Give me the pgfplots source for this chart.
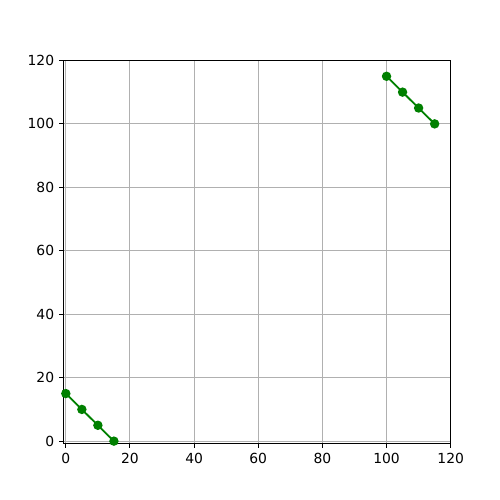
\documentclass[border=0pt]{standalone}
\usepackage{pgfplots}
\pgfplotsset{compat=1.18}
\usepackage{fontspec}
\setmainfont{DejaVu Sans}
\definecolor{mplgreen}{rgb}{0,0.5,0}
\begin{document}
\begin{tikzpicture}
\begin{axis}[
  scale only axis,
  width=278.5pt, height=275.5pt,
  xmin=-0.6, xmax=120, ymin=-0.6, ymax=120,
  xtick={0,20,40,60,80,100,120},
  ytick={0,20,40,60,80,100,120},
  grid=major,
  grid style={color=black!31, line width=0.7pt},
  tick align=outside,
  tick pos=left,
  major tick length=3.5pt,
  every tick/.style={black, line width=0.7pt},
  axis line style={line width=0.7pt},
  /pgf/number format/assume math mode=true,
  ticklabel style={font=\fontsize{10}{12}\selectfont},
  clip=false,
]
\addplot[mplgreen, line width=1.3pt, mark=*, mark size=2.7pt, mark options={fill=mplgreen, draw=mplgreen}] coordinates {(0,15) (5,10) (10,5) (15,0)};
\addplot[mplgreen, line width=1.3pt, mark=*, mark size=2.7pt, mark options={fill=mplgreen, draw=mplgreen}] coordinates {(100,115) (105,110) (110,105) (115,100)};
\end{axis}
\useasboundingbox (-46pt,-41pt) rectangle (314pt,319pt);
\end{tikzpicture}
\end{document}
